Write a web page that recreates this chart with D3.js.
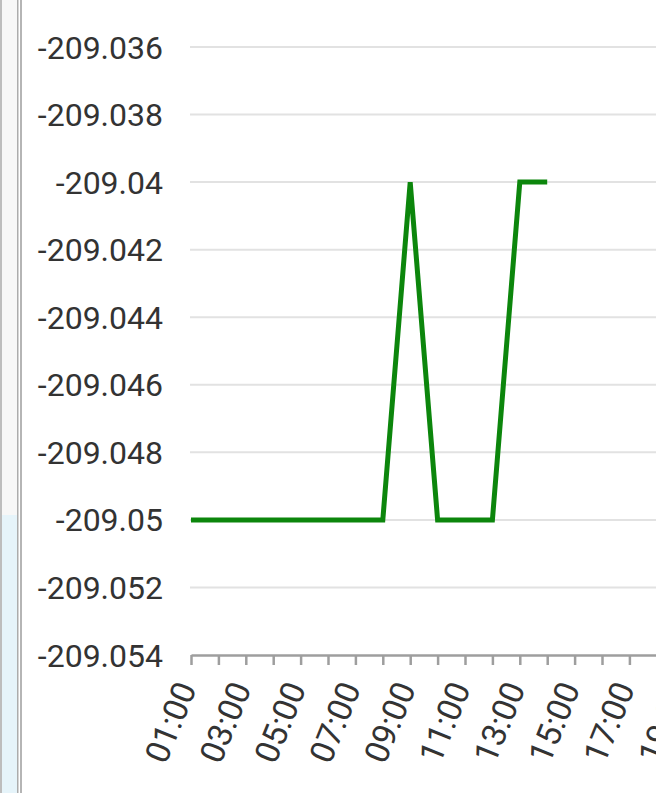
<!DOCTYPE html>
<html>
<head>
<meta charset="utf-8">
<script src="https://cdn.jsdelivr.net/npm/d3@7"></script>
<style>
  html, body { margin: 0; padding: 0; background: #fff; overflow: hidden; }
  svg { display: block; font-family: Roboto, "Noto Sans", sans-serif; }
</style>
</head>
<body>
<svg id="chart" width="656" height="793"></svg>
<script>
// hourly readings
const hours = [1, 2, 3, 4, 5, 6, 7, 8, 9, 10, 11, 12, 13, 14];
const values = [-209.05, -209.05, -209.05, -209.05, -209.05, -209.05, -209.05, -209.05,
                -209.04, -209.05, -209.05, -209.05, -209.04, -209.04];
const yTicks = [-209.036, -209.038, -209.04, -209.042, -209.044, -209.046, -209.048, -209.05, -209.052, -209.054];
const xTickHours = d3.range(1, 25);
const xLabelHours = [1, 3, 5, 7, 9, 11, 13, 15, 17, 19, 21, 23];

const svg = d3.select("#chart");
const width = +svg.attr("width");

// bits of the phone screen on the left
svg.append("rect").attr("x", 0).attr("y", 0).attr("width", 2).attr("height", 793).attr("fill", "#bdbdbd");
svg.append("rect").attr("x", 2).attr("y", 0).attr("width", 15).attr("height", 515).attr("fill", "#f7f7f7");
svg.append("rect").attr("x", 2).attr("y", 515).attr("width", 15).attr("height", 278).attr("fill", "#e6f4fa");
svg.append("rect").attr("x", 17).attr("y", 0).attr("width", 1.5).attr("height", 793).attr("fill", "#acacac");
svg.append("rect").attr("x", 20).attr("y", 0).attr("width", 2).attr("height", 793).attr("fill", "#b5b5b5");

const left = 191;
const step = 27.4;

const x = d3.scaleLinear()
  .domain([1, 24])
  .range([left, left + 23 * step]);

const y = d3.scaleLinear()
  .domain([-209.054, -209.036])
  .range([655, 47]);

const fmt = d => String(+d.toFixed(3));

// grid
svg.append("g")
  .selectAll("line")
  .data(yTicks.slice(0, -1))
  .join("line")
    .attr("x1", left - 1)
    .attr("x2", width)
    .attr("y1", d => y(d))
    .attr("y2", d => y(d))
    .attr("stroke", "#e2e2e2")
    .attr("stroke-width", 2);

// y labels
svg.append("g")
  .selectAll("text")
  .data(yTicks)
  .join("text")
    .attr("x", 163)
    .attr("y", d => y(d))
    .attr("dy", "0.36em")
    .attr("text-anchor", "end")
    .attr("font-size", 32)
    .attr("fill", "#333")
    .text(fmt);

// x axis
const xAxis = svg.append("g")
  .attr("transform", `translate(0,${y(-209.054)})`)
  .call(d3.axisBottom(x).tickValues(xTickHours).tickSize(10).tickSizeOuter(0).tickFormat(""));
xAxis.select(".domain").attr("stroke", "#9e9e9e").attr("stroke-width", 2.5);
xAxis.selectAll(".tick line").attr("stroke", "#9e9e9e").attr("stroke-width", 2.5);

svg.append("g")
  .selectAll("text")
  .data(xLabelHours)
  .join("text")
    .attr("transform", d => `translate(${x(d) + 6},${688}) rotate(-68)`)
    .attr("text-anchor", "end")
    .attr("font-size", 33.5)
    .attr("fill", "#333")
    .text(d => String(d).padStart(2, "0") + ":00");

// line
const line = d3.line()
  .x((d, i) => x(hours[i]))
  .y(d => y(d));

svg.append("path")
  .datum(values)
  .attr("d", line)
  .attr("fill", "none")
  .attr("stroke", "#0c860c")
  .attr("stroke-width", 5)
  .attr("stroke-linejoin", "miter");
</script>
</body>
</html>
